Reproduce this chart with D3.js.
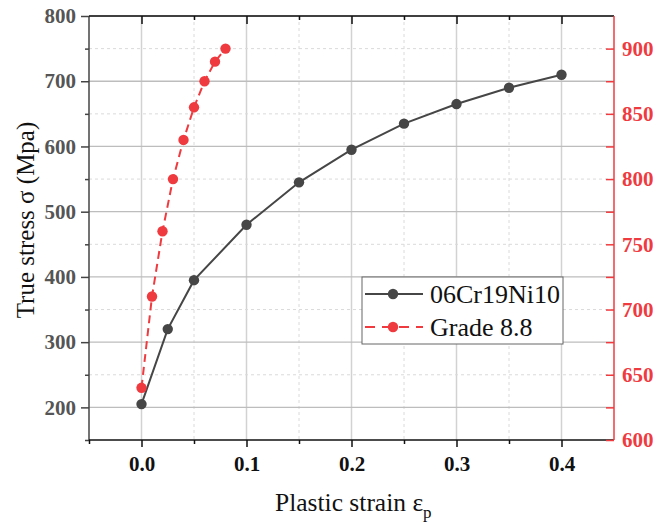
<!DOCTYPE html>
<html>
<head>
<meta charset="utf-8">
<script src="https://cdn.jsdelivr.net/npm/d3@7"></script>
<style>
  body { margin: 0; background: #fff; }
  svg { display: block; }
  svg text { font-family: "Liberation Serif", "Times New Roman", serif; }
</style>
</head>
<body>
<svg width="656" height="523"></svg>
<script>
// 06Cr19Ni10 (left axis)
const steelStrain = [0, 0.025, 0.05, 0.1, 0.15, 0.2, 0.25, 0.3, 0.35, 0.4];
const steelStress = [205, 320, 395, 480, 545, 595, 635, 665, 690, 710];
// Grade 8.8 (right axis)
const boltStrain = [0, 0.01, 0.02, 0.03, 0.04, 0.05, 0.06, 0.07, 0.08];
const boltStress = [640, 710, 760, 800, 830, 855, 875, 890, 900];

const xTicks = [0, 0.1, 0.2, 0.3, 0.4];
const xMinor = [-0.05, 0.05, 0.15, 0.25, 0.35, 0.45];
const yTicks = [200, 300, 400, 500, 600, 700, 800];
const yMinor = [150, 250, 350, 450, 550, 650, 750];
const y2Ticks = [600, 650, 700, 750, 800, 850, 900];
const y2Minor = [625, 675, 725, 775, 825, 875];

const seriesNames = ["06Cr19Ni10", "Grade 8.8"];

const svg = d3.select("svg");
const m = { left: 89, right: 614, top: 16, bottom: 440 };

const x = d3.scaleLinear().domain([-0.05, 0.45]).range([m.left, m.right]);
const y = d3.scaleLinear().domain([150, 800]).range([m.bottom, m.top]);
const y2 = d3.scaleLinear().domain([600, 925]).range([m.bottom, m.top]);

const red = "#ef3b3f";
const dark = "#464646";

// grid
const grid = svg.append("g");
grid.selectAll(".vmaj").data(xTicks).enter().append("line")
  .attr("x1", d => x(d)).attr("x2", d => x(d))
  .attr("y1", m.top).attr("y2", m.bottom)
  .attr("stroke", "#d2d2d2").attr("stroke-width", 1.5);
grid.selectAll(".vmin").data(xMinor.slice(1, -1)).enter().append("line")
  .attr("x1", d => x(d)).attr("x2", d => x(d))
  .attr("y1", m.top).attr("y2", m.bottom)
  .attr("stroke", "#dadada").attr("stroke-dasharray", "3,3");
grid.selectAll(".hmaj").data(yTicks).enter().append("line")
  .attr("x1", m.left).attr("x2", m.right)
  .attr("y1", d => y(d)).attr("y2", d => y(d))
  .attr("stroke", "#bdbdbd").attr("stroke-width", 1.3);
grid.selectAll(".hmin").data(yMinor.slice(1)).enter().append("line")
  .attr("x1", m.left).attr("x2", m.right)
  .attr("y1", d => y(d)).attr("y2", d => y(d))
  .attr("stroke", "#dadada").attr("stroke-dasharray", "3,3");

// axes
const fontAxis = g => {
  g.attr("font-family", null).attr("font-size", null);
  g.selectAll("text")
    .style("font-family", '"Liberation Serif", "Times New Roman", serif')
    .style("font-size", "21px").style("font-weight", "bold");
};

const leftAxis = svg.append("g").attr("transform", `translate(${m.left},0)`)
  .call(d3.axisLeft(y).tickValues(yTicks).tickFormat(d3.format("d")).tickSize(8).tickPadding(5))
  .call(fontAxis);
leftAxis.selectAll("text").attr("fill", "#555");
leftAxis.selectAll("line, path").attr("stroke", "#444").attr("stroke-width", 1.5);
leftAxis.select(".domain").attr("d", `M0,${m.bottom}V${m.top}`);
svg.append("g").attr("transform", `translate(${m.left},0)`)
  .call(d3.axisLeft(y).tickValues(yMinor).tickFormat("").tickSize(4))
  .call(g => g.select(".domain").remove())
  .selectAll("line").attr("stroke", "#444").attr("stroke-width", 1.5);

const bottomAxis = svg.append("g").attr("transform", `translate(0,${m.bottom})`)
  .call(d3.axisBottom(x).tickValues(xTicks).tickFormat(d3.format(".1f")).tickSize(7).tickPadding(9))
  .call(fontAxis);
bottomAxis.selectAll("text").attr("fill", "#111");
bottomAxis.selectAll("line, path").attr("stroke", "#111").attr("stroke-width", 1.5);
bottomAxis.select(".domain").attr("d", `M${m.left},0H${m.right}`);
svg.append("g").attr("transform", `translate(0,${m.bottom})`)
  .call(d3.axisBottom(x).tickValues(xMinor.slice(0, -1)).tickFormat("").tickSize(4))
  .call(g => g.select(".domain").remove())
  .selectAll("line").attr("stroke", "#111").attr("stroke-width", 1.5);

// top frame with inward ticks
const topAxis = svg.append("g").attr("transform", `translate(0,${m.top})`)
  .call(d3.axisTop(x).tickValues(xTicks).tickFormat("").tickSize(-8));
topAxis.selectAll("line, path").attr("stroke", "#111").attr("stroke-width", 1.5);
topAxis.select(".domain").attr("d", `M${m.left},0H${m.right}`);
svg.append("g").attr("transform", `translate(0,${m.top})`)
  .call(d3.axisTop(x).tickValues(xMinor.slice(1, -1)).tickFormat("").tickSize(-4))
  .call(g => g.select(".domain").remove())
  .selectAll("line").attr("stroke", "#111").attr("stroke-width", 1.5);

// right axis (red), ticks pointing inward
const rightAxis = svg.append("g").attr("transform", `translate(${m.right},0)`)
  .call(d3.axisRight(y2).tickValues(y2Ticks).tickFormat(d3.format("d")).tickSize(-8).tickPadding(8))
  .call(fontAxis);
rightAxis.selectAll("text").attr("fill", red);
rightAxis.selectAll("line, path").attr("stroke", red).attr("stroke-width", 1.5);
rightAxis.select(".domain").attr("d", `M0,${m.bottom}V${m.top}`);
svg.append("g").attr("transform", `translate(${m.right},0)`)
  .call(d3.axisRight(y2).tickValues(y2Minor).tickFormat("").tickSize(-8))
  .call(g => g.select(".domain").remove())
  .selectAll("line").attr("stroke", red).attr("stroke-width", 1.5);

// series
const steel = steelStrain.map((s, i) => [s, steelStress[i]]);
const bolt = boltStrain.map((s, i) => [s, boltStress[i]]);

svg.append("path").datum(steel)
  .attr("fill", "none").attr("stroke", dark).attr("stroke-width", 2)
  .attr("d", d3.line().x(d => x(d[0])).y(d => y(d[1])));
svg.selectAll(".steel").data(steel).enter().append("circle")
  .attr("cx", d => x(d[0])).attr("cy", d => y(d[1])).attr("r", 5.2).attr("fill", dark);

svg.append("path").datum(bolt)
  .attr("fill", "none").attr("stroke", red).attr("stroke-width", 2)
  .attr("stroke-dasharray", "8,5")
  .attr("d", d3.line().x(d => x(d[0])).y(d => y2(d[1])));
svg.selectAll(".bolt").data(bolt).enter().append("circle")
  .attr("cx", d => x(d[0])).attr("cy", d => y2(d[1])).attr("r", 5.2).attr("fill", red);

// axis titles
svg.append("text")
  .attr("transform", "translate(34,220) rotate(-90)")
  .attr("text-anchor", "middle").style("font-size", "25px").attr("fill", "#111")
  .text("True stress σ (Mpa)");
const xt = svg.append("text")
  .attr("x", 275).attr("y", 511)
  .style("font-size", "25.5px").attr("fill", "#111");
xt.append("tspan").text("Plastic strain ε");
xt.append("tspan").style("font-size", "17px").attr("dy", 7).text("p");

// legend
const lg = svg.append("g").attr("transform", "translate(362,277)");
lg.append("rect").attr("width", 201).attr("height", 67)
  .attr("fill", "#fff").attr("stroke", "#666").attr("stroke-width", 1);
const rows = [
  { name: seriesNames[0], color: dark, dash: null, y: 17 },
  { name: seriesNames[1], color: red, dash: "10,7", y: 50 }
];
rows.forEach(r => {
  lg.append("line").attr("x1", 3).attr("x2", 61).attr("y1", r.y).attr("y2", r.y)
    .attr("stroke", r.color).attr("stroke-width", 2)
    .attr("stroke-dasharray", r.dash);
  lg.append("circle").attr("cx", 31).attr("cy", r.y).attr("r", 5.2).attr("fill", r.color);
  lg.append("text").attr("x", 68).attr("y", r.y + 9)
    .style("font-size", "26px").attr("fill", "#111").text(r.name);
});
</script>
</body>
</html>
